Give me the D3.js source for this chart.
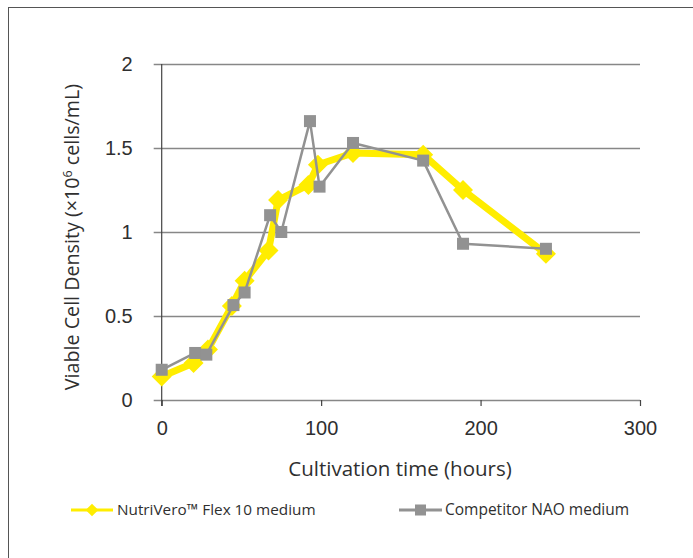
<!DOCTYPE html>
<html>
<head>
<meta charset="utf-8">
<script src="https://cdn.jsdelivr.net/npm/d3@7"></script>
<style>
  html, body { margin: 0; padding: 0; background: #fff; }
  svg { display: block; font-family: "Open Sans", Lato, sans-serif; }
</style>
</head>
<body>
<svg id="chart" width="693" height="558"></svg>
<script>
// ---- data ----
const nutriTime   = [0, 20, 29, 44, 52, 67, 73, 92, 98, 120, 164, 189, 241];
const nutriVcd    = [0.14, 0.22, 0.30, 0.56, 0.71, 0.89, 1.19, 1.28, 1.40, 1.47, 1.46, 1.25, 0.87];
const compTime    = [0, 21, 28, 45, 52, 68, 75, 93, 99, 120, 164, 189, 241];
const compVcd     = [0.18, 0.28, 0.27, 0.565, 0.64, 1.10, 1.00, 1.66, 1.27, 1.53, 1.425, 0.93, 0.90];
const xTicks      = [0, 100, 200, 300];
const yTicks      = [0, 0.5, 1, 1.5, 2];
const seriesNames = ["NutriVero\u2122 Flex 10 medium", "Competitor NAO medium"];
const xTitle = "Cultivation time (hours)";

const YELLOW = "#FFED00";
const GREY = "#929292";
const AXIS = "#878787";
const TEXT = "#2f2f2f";

const svg = d3.select("#chart");

svg.append("rect")
  .attr("x", 8.5).attr("y", 7.5)
  .attr("width", 720).attr("height", 600)
  .attr("fill", "none").attr("stroke", "#555").attr("stroke-width", 1);

const x = d3.scaleLinear().domain([0, 300]).range([161.7, 640]);
const y = d3.scaleLinear().domain([0, 2]).range([400, 64]);

const gY = svg.append("g")
  .attr("transform", `translate(${x(0)},0)`)
  .call(d3.axisLeft(y).tickValues(yTicks)
    .tickSize(-(x(300) - x(0)))
    .tickFormat(d3.format("~g"))
    .tickPadding(22));
gY.select(".domain").remove();
gY.selectAll(".tick line").attr("stroke", AXIS).attr("stroke-width", 1.3).attr("x1", -8);
gY.selectAll(".tick text").attr("fill", TEXT).style("font-size", "20px").attr("x", -29);

svg.append("line")
  .attr("x1", x(0)).attr("x2", x(0))
  .attr("y1", y(2)).attr("y2", y(0) + 6)
  .attr("stroke", "#444").attr("stroke-width", 1.2);

const gX = svg.append("g")
  .attr("transform", `translate(0,${y(0)})`)
  .call(d3.axisBottom(x).tickValues(xTicks).tickSize(6).tickPadding(15));
gX.select(".domain").remove();
gX.selectAll(".tick line").attr("stroke", "#444").attr("stroke-width", 1.2);
gX.selectAll(".tick text").attr("fill", TEXT).style("font-size", "20px");

svg.append("text")
  .attr("x", 400).attr("y", 476)
  .attr("text-anchor", "middle")
  .attr("fill", TEXT).style("font-size", "20.5px")
  .text(xTitle);

const yt = svg.append("text")
  .attr("transform", `translate(79,${(y(0) + y(2)) / 2 + 5}) rotate(-90)`)
  .attr("text-anchor", "middle")
  .attr("fill", TEXT).style("font-size", "19.7px");
yt.append("tspan").text("Viable Cell Density (\u00d710");
yt.append("tspan").attr("dy", -7).style("font-size", "12.5px").text("6");
yt.append("tspan").attr("dy", 7).text(" cells/mL)");

const nutri = nutriTime.map((t, i) => [t, nutriVcd[i]]);
const comp = compTime.map((t, i) => [t, compVcd[i]]);
const line = d3.line().x(d => x(d[0])).y(d => y(d[1]));

svg.append("path").datum(nutri)
  .attr("d", line).attr("fill", "none")
  .attr("stroke", YELLOW).attr("stroke-width", 7).attr("stroke-linejoin", "round");
const diamond = d3.symbol().type(d3.symbolSquare).size(200);
svg.selectAll(".dia").data(nutri).enter().append("path")
  .attr("d", diamond)
  .attr("transform", d => `translate(${x(d[0])},${y(d[1])}) rotate(45)`)
  .attr("fill", YELLOW);

svg.append("path").datum(comp)
  .attr("d", line).attr("fill", "none")
  .attr("stroke", GREY).attr("stroke-width", 2.5).attr("stroke-linejoin", "round");
svg.selectAll(".sq").data(comp).enter().append("rect")
  .attr("x", d => x(d[0]) - 6).attr("y", d => y(d[1]) - 6)
  .attr("width", 12).attr("height", 12)
  .attr("fill", GREY);

const legY = 510;
const lg1 = svg.append("g");
lg1.append("line").attr("x1", 71).attr("x2", 113).attr("y1", legY).attr("y2", legY)
  .attr("stroke", YELLOW).attr("stroke-width", 3);
lg1.append("path").attr("d", d3.symbol().type(d3.symbolSquare).size(80))
  .attr("transform", `translate(92,${legY}) rotate(45)`).attr("fill", YELLOW);
lg1.append("text").attr("x", 117).attr("y", legY + 5)
  .attr("fill", TEXT).style("font-size", "15.3px").text(seriesNames[0]);

const lg2 = svg.append("g");
lg2.append("line").attr("x1", 399).attr("x2", 442).attr("y1", legY).attr("y2", legY)
  .attr("stroke", GREY).attr("stroke-width", 3);
lg2.append("rect").attr("x", 415).attr("y", legY - 5.5).attr("width", 11).attr("height", 11)
  .attr("fill", GREY);
lg2.append("text").attr("x", 445).attr("y", legY + 5)
  .attr("fill", TEXT).style("font-size", "15.5px").text(seriesNames[1]);
</script>
</body>
</html>
